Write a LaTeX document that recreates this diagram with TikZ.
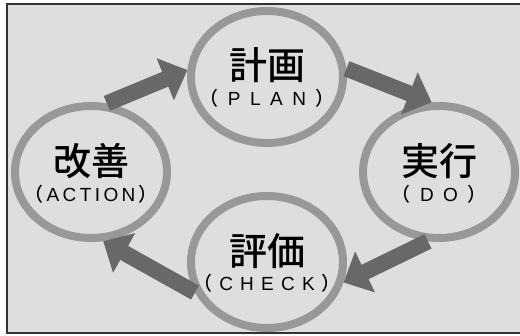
\documentclass[tikz,border=0pt]{standalone}
\usepackage{fontspec}
\usetikzlibrary{shapes.geometric,arrows.meta}
\newfontfamily\jpfont{Noto Sans CJK JP}[UprightFont={* Medium}]
\newfontfamily\latinfont{Liberation Sans}
\definecolor{panelgray}{RGB}{221,222,224}
\definecolor{ringgray}{RGB}{152,152,154}
\definecolor{arrowgray}{RGB}{104,104,106}
\newcommand{\kanji}[1]{{\jpfont\fontsize{38pt}{40pt}\selectfont #1}}
% #1: letter gap in hundredths of an em
\newcommand{\eng}[2]{{\fontsize{19pt}{20pt}\selectfont{\jpfont （}\kern0.#1em{\latinfont\addfontfeature{LetterSpace=#1}#2}\kern0.#1em{\jpfont ）}}}
\begin{document}
\begin{tikzpicture}[x=1pt,y=-1pt,
    ring/.style={ellipse,draw=ringgray,line width=8pt,minimum width=152pt,minimum height=132pt,inner sep=0pt},
    flow/.style={draw=arrowgray,line width=16pt,-{Triangle[length=24pt,width=44pt]}}]
  \useasboundingbox (0,0) rectangle (520,336);
  \filldraw[fill=panelgray,draw=black!80,line width=2pt] (7,4) rectangle (530,333);

  \node[ring] (plan) at (267,77) {};
  \node[ring] (act) at (91,172) {};
  \node[ring] (do) at (439,172) {};
  \node[ring] (check) at (267,262) {};

  \draw[flow] (act.77) -- (plan.175);
  \draw[flow] (plan.6) -- (do.96);
  \draw[flow] (do.261) -- (check.345);
  \draw[flow] (check.203) -- (act.280);

  \node (plan-jp) at (267,65) {\kanji{計画}};
  \node (plan-en) at (267,98) {\eng{50}{PLAN}};
  \node (act-jp) at (91,161) {\kanji{改善}};
  \node (act-en) at (91,194) {\eng{18}{ACTION}};
  \node (do-jp) at (439,161) {\kanji{実行}};
  \node (do-en) at (439,194) {\eng{50}{DO}};
  \node (check-jp) at (267,251) {\kanji{評価}};
  \node (check-en) at (267,283) {\eng{38}{CHECK}};
\end{tikzpicture}
\end{document}
